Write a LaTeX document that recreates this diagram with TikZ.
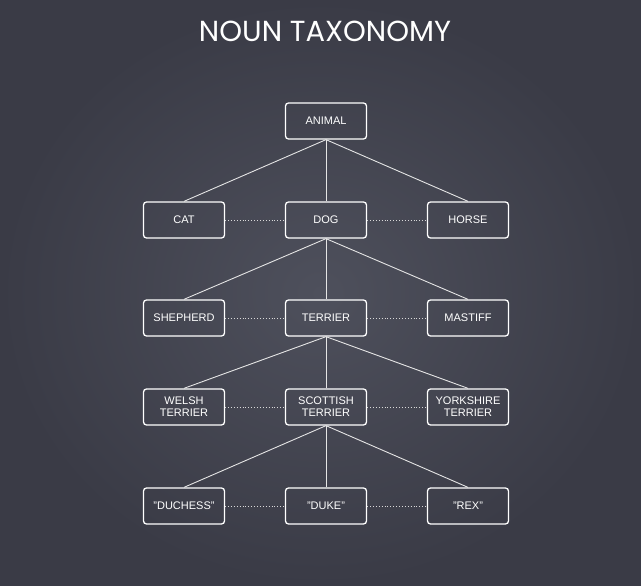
\documentclass[tikz,border=0pt]{standalone}
\usepackage{fontspec}
\setmainfont{Liberation Sans}
\newfontfamily\titlefont{Poppins}
\begin{document}
\begin{tikzpicture}[x=1pt,y=-1pt,
  box/.style={draw=white, line width=1.3pt, rounded corners=3pt, minimum width=81pt, minimum height=36pt, inner sep=1pt, align=center, text=white, font=\fontsize{11}{12}\selectfont},
  link/.style={draw=white!90!black, line width=0.9pt},
  sib/.style={draw=white!70!gray, line width=0.9pt, dotted}]
\useasboundingbox (0,0) rectangle (641,586);
\shade[inner color={rgb,255:red,78;green,80;blue,92}, outer color={rgb,255:red,58;green,59;blue,70}] (0,0) rectangle (641,586);
\node[text=white, font=\titlefont\fontsize{29}{32}\selectfont] (title) at (325,31) {NOUN TAXONOMY};
\node[box] (animal) at (326,121) {ANIMAL};
\node[box] (cat) at (184,220) {CAT};
\node[box] (dog) at (326,220) {DOG};
\node[box] (horse) at (468,220) {HORSE};
\node[box] (shepherd) at (184,318) {SHEPHERD};
\node[box] (terrier) at (326,318) {TERRIER};
\node[box] (mastiff) at (468,318) {MASTIFF};
\node[box] (welsh) at (184,407) {WELSH\\TERRIER};
\node[box] (scottish) at (326,407) {SCOTTISH\\TERRIER};
\node[box] (york) at (468,407) {YORKSHIRE\\TERRIER};
\node[box] (duchess) at (184,506) {"DUCHESS"};
\node[box] (duke) at (326,506) {"DUKE"};
\node[box] (rex) at (468,506) {"REX"};
\foreach \p/\a/\b/\c in {animal/cat/dog/horse, dog/shepherd/terrier/mastiff, terrier/welsh/scottish/york, scottish/duchess/duke/rex}{
  \draw[link] (\p.south) -- (\a.north);
  \draw[link] (\p.south) -- (\b.north);
  \draw[link] (\p.south) -- (\c.north);
  \draw[sib] (\a.east) -- (\b.west);
  \draw[sib] (\b.east) -- (\c.west);
}
\end{tikzpicture}
\end{document}
